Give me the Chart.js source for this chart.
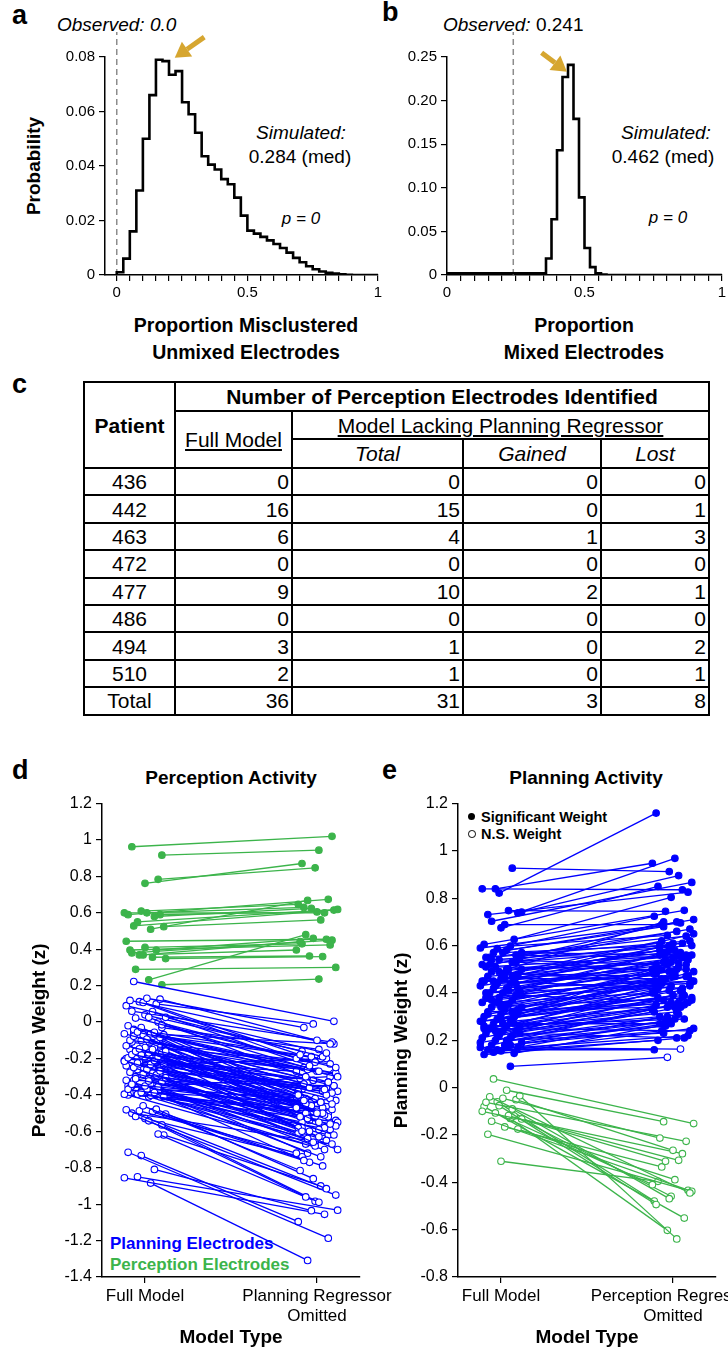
<!DOCTYPE html>
<html>
<head>
<meta charset="utf-8">
<title>Misclustering simulations and regressor omission</title>
<script src="https://cdn.jsdelivr.net/npm/chart.js@4.4.1/dist/chart.umd.min.js"></script>
<style>
  html, body { margin: 0; padding: 0; background: #fff; }
  body { position: relative; width: 728px; height: 1351px; overflow: hidden;
         font-family: "Liberation Sans", Arial, sans-serif; color: #000; }
  canvas { position: absolute; }
  .t { position: absolute; white-space: nowrap; line-height: 1; }
  .c { transform: translate(-50%, -50%); }
  .l { transform: translateY(-50%); }
  .b { font-weight: bold; }
  .i { font-style: italic; }
  .letter { font-size: 27px; font-weight: bold; }
  #tbl { position: absolute; left: 83px; top: 381px; width: 625px; border-collapse: collapse;
         table-layout: fixed; font-size: 21px; border: 2.5px solid #000; }
  #tbl td, #tbl th { border: 2px solid #000; padding: 0 2px; line-height: 1; }
  #tbl th { font-weight: bold; text-align: center; }
  #tbl .u { text-decoration: underline; text-align: center; }
  #tbl .it { font-style: italic; text-align: center; }
  #tbl .num { text-align: right; }
  #tbl .pat { text-align: center; }
</style>
</head>
<body>

<!-- panel letters -->
<div class="t letter" style="left:12px; top:2px;">a</div>
<div class="t letter" style="left:382px; top:-1px;">b</div>
<div class="t letter" style="left:12px; top:371px;">c</div>
<div class="t letter" style="left:12px; top:757px;">d</div>
<div class="t letter" style="left:382px; top:757px;">e</div>

<!-- panel a / b annotations -->
<div class="t l i" style="left:57px; top:24px; font-size:19px;">Observed: 0.0</div>
<div class="t l" style="left:443px; top:24px; font-size:19px;"><span class="i">Observed:</span> 0.241</div>
<div class="t c i" style="left:301px; top:132px; font-size:19px;">Simulated:</div>
<div class="t c" style="left:300px; top:156px; font-size:19px;">0.284 (med)</div>
<div class="t c i" style="left:301px; top:218px; font-size:17px;">p = 0</div>
<div class="t c i" style="left:666px; top:132px; font-size:19px;">Simulated:</div>
<div class="t c" style="left:663px; top:156px; font-size:19px;">0.462 (med)</div>
<div class="t c i" style="left:668px; top:217px; font-size:17px;">p = 0</div>
<div class="t c b" style="left:33px; top:166px; font-size:19px; transform: translate(-50%,-50%) rotate(-90deg);">Probability</div>
<div class="t c b" style="left:246px; top:326px; font-size:19.5px;">Proportion Misclustered</div>
<div class="t c b" style="left:246px; top:353px; font-size:19.5px;">Unmixed Electrodes</div>
<div class="t c b" style="left:584px; top:326px; font-size:19.5px;">Proportion</div>
<div class="t c b" style="left:584px; top:353px; font-size:19.5px;">Mixed Electrodes</div>

<!-- panel d / e titles and legends -->
<div class="t c b" style="left:231px; top:777px; font-size:19px;">Perception Activity</div>
<div class="t c b" style="left:586px; top:777px; font-size:19px;">Planning Activity</div>
<div class="t l b" style="left:110px; top:1243px; font-size:17px; color:#0000ff;">Planning Electrodes</div>
<div class="t l b" style="left:110px; top:1264px; font-size:17px; color:#3cb44b;">Perception Electrodes</div>
<div class="t l b" style="left:481px; top:817px; font-size:14.5px;">Significant Weight</div>
<div class="t l b" style="left:481px; top:834px; font-size:14.5px;">N.S. Weight</div>
<div style="position:absolute; left:468px; top:813px; width:7px; height:7px; border-radius:50%; background:#000;"></div>
<div style="position:absolute; left:468px; top:830px; width:5.6px; height:5.6px; border-radius:50%; border:0.8px solid #000; background:#fff;"></div>

<canvas id="histA" width="392" height="310" style="left:0; top:10px;"></canvas>
<canvas id="histB" width="360" height="310" style="left:380px; top:10px;"></canvas>

<table id="tbl">
  <colgroup><col style="width:91px"><col style="width:117px"><col style="width:171px"><col style="width:138px"><col style="width:108px"></colgroup>
  <tr style="height:29px"><th rowspan="3">Patient</th><th colspan="4">Number of Perception Electrodes Identified</th></tr>
  <tr style="height:28px"><td rowspan="2" class="u">Full Model</td><td colspan="3" class="u">Model Lacking Planning Regressor</td></tr>
  <tr style="height:29px"><td class="it">Total</td><td class="it">Gained</td><td class="it">Lost</td></tr>
</table>

<canvas id="slopeD" width="410" height="561" style="left:0; top:790px;"></canvas>
<canvas id="slopeE" width="420" height="561" style="left:370px; top:790px;"></canvas>

<script>
// ---- panel a: misclustered unmixed electrodes (bin left edges, probability) ----
const histABins = [0.000, 0.025, 0.050, 0.075, 0.100, 0.125, 0.150, 0.175, 0.200, 0.225,
                   0.250, 0.275, 0.300, 0.325, 0.350, 0.375, 0.400, 0.425, 0.450, 0.475,
                   0.500, 0.525, 0.550, 0.575, 0.600, 0.625, 0.650, 0.675, 0.700, 0.725,
                   0.750, 0.775, 0.800, 0.825, 0.850, 0.875, 0.900, 0.925, 0.950, 0.975];
const histAProb = [0, 0.001, 0.006, 0.016, 0.031, 0.050, 0.066, 0.079, 0.0785, 0.0735,
                   0.0748, 0.0634, 0.0590, 0.0522, 0.0436, 0.0405, 0.0387, 0.0352, 0.0333, 0.0284,
                   0.0218, 0.0163, 0.0152, 0.0140, 0.0127, 0.0114, 0.0099, 0.0082, 0.0063, 0.0047,
                   0.0032, 0.0021, 0.0013, 0.0008, 0.0005, 0.0003, 0.0001, 0, 0, 0];

// ---- panel b: mixed electrodes ----
const histBBins = [0, 0.36, 0.38, 0.40, 0.42, 0.44, 0.46, 0.48, 0.50, 0.52, 0.54, 0.56, 0.58, 0.60];
const histBProb = [0, 0.002, 0.019, 0.064, 0.143, 0.227, 0.241, 0.179, 0.089, 0.031, 0.009, 0.002, 0.0005, 0];

const observedA = 0.0;
const observedB = 0.241;

const histXTicks = [0, 0.05, 0.1, 0.15, 0.2, 0.25, 0.3, 0.35, 0.4, 0.45, 0.5,
                    0.55, 0.6, 0.65, 0.7, 0.75, 0.8, 0.85, 0.9, 0.95, 1];
const histXLabels = ['0', '', '', '', '', '', '', '', '', '', '0.5',
                     '', '', '', '', '', '', '', '', '', '1'];
const histAYTicks = [0, 0.02, 0.04, 0.06, 0.08];
const histAYLabels = ['0', '0.02', '0.04', '0.06', '0.08'];
const histBYTicks = [0, 0.05, 0.10, 0.15, 0.20, 0.25];
const histBYLabels = ['0', '0.05', '0.10', '0.15', '0.20', '0.25'];

// ---- panel c: table ----
const patients   = ['436', '442', '463', '472', '477', '486', '494', '510'];
const fullModel  = [0, 16, 6, 0, 9, 0, 3, 2];
const lackTotal  = [0, 15, 4, 0, 10, 0, 1, 1];
const lackGained = [0, 0, 1, 0, 2, 0, 0, 0];
const lackLost   = [0, 1, 3, 0, 1, 0, 2, 1];

// ---- panel d: perception weights (full model vs planning regressor omitted) ----
const dPlanFull = [0.223, 0.131, 0.126, 0.119, 0.108, 0.1, 0.09, 0.112, 0.058, 0.026, 0.022, 0.026, -0.015, 0.06, 0.04, 0, -0.02, -0.03,
  -0.056, -0.064, -0.055, -0.064, -0.069, -0.078, -0.093, -0.085, -0.1, -0.07, -0.11,
  -0.13, -0.147, -0.151, -0.16, -0.16, -0.169, -0.169, -0.178, -0.14, -0.19, -0.196, -0.18,
  -0.211, -0.215, -0.224, -0.233, -0.233, -0.25, -0.26, -0.269, -0.275, -0.287, -0.29, -0.24, -0.22, -0.28,
  -0.305, -0.311, -0.324, -0.329, -0.342, -0.351, -0.355, -0.369, -0.387, -0.387, -0.396, -0.396, -0.402, -0.409, -0.32, -0.37, -0.41, -0.36,
  -0.46, -0.478, -0.482, -0.487, -0.493, -0.505, -0.518, -0.542, -0.565, -0.5, -0.53,
  -0.615, -0.715, -0.733, -0.809, -0.855, -0.85, -0.884, -0.62,
  -0.04, -0.09, -0.12, -0.15, -0.17, -0.19, -0.2, -0.23, -0.25, -0.27,
  -0.3, -0.31, -0.33, -0.35, -0.37, -0.38, -0.4, -0.1, -0.14, -0.21,
  -0.26, -0.34, -0.08, -0.06, -0.18, -0.28, -0.39, -0.12, -0.22, -0.32,
  -0.05, -0.16, -0.24, -0.36, -0.41, -0.03, -0.11, -0.19, -0.27, -0.35];
const dPlanOmit = [0.004, -0.03, -0.1, -0.12, -0.18, -0.01, -0.17, -0.2, -0.24, -0.19, -0.25, -0.3, -0.27, -0.11, -0.16, -0.22, -0.33, -0.4,
  -0.19, -0.37, -0.3, -0.26, -0.44, -0.35, -0.43, -0.5, -0.23, -0.52, -0.32,
  -0.4, -0.47, -0.36, -0.5, -0.28, -0.45, -0.55, -0.39, -0.6, -0.42, -0.33, -0.58,
  -0.46, -0.51, -0.38, -0.53, -0.44, -0.62, -0.34, -0.49, -0.56, -0.41, -0.66, -0.2, -0.27, -0.6,
  -0.47, -0.57, -0.5, -0.63, -0.45, -0.58, -0.68, -0.52, -0.61, -0.44, -0.7, -0.55, -0.64, -0.74, -0.35, -0.76, -0.48, -0.3,
  -0.815, -0.86, -0.915, -0.72, -0.77, -0.79, -0.95, -0.96, -0.99, -0.67, -0.74,
  -0.984, -1.187, -1.096, -1.036, -1.056, -1.033, -1.309, -0.9,
  -0.28, -0.34, -0.27, -0.42, -0.31, -0.49, -0.36, -0.4, -0.47, -0.38,
  -0.54, -0.42, -0.59, -0.48, -0.55, -0.66, -0.5, -0.38, -0.22, -0.58,
  -0.7, -0.72, -0.2, -0.12, -0.25, -0.45, -0.59, -0.46, -0.32, -0.65,
  -0.41, -0.54, -0.64, -0.43, -0.67, -0.15, -0.29, -0.37, -0.52, -0.62];
const dPercFull = [0.917, 0.963, 0.762, 0.784, 0.59, 0.61, 0.58, 0.60, 0.55, 0.51, 0.524, 0.528, 0.60,
  0.59, 0.396, 0.369, 0.396, 0.444, 0.369, 0.356, 0.349, 0.29, 0.232, 0.205, 0.38, 0.41];
const dPercOmit = [0.944, 1.02, 0.871, 0.847, 0.674, 0.647, 0.625, 0.60, 0.619, 0.668, 0.561, 0.615, 0.63,
  0.605, 0.424, 0.442, 0.46, 0.455, 0.396, 0.363, 0.36, 0.30, 0.48, 0.236, 0.45, 0.43];

// ---- panel e: planning weights (full model vs perception regressor omitted) ----
const ePlanFull = [0.822, 0.927, 0.84, 0.84, 0.748, 0.742, 0.703, 0.689, 0.738, 0.731, 0.675, 0.626, 0.605, 0.587, 0.598, 0.59, 0.57, 0.58, 0.56, 0.55,
  0.57, 0.56, 0.55, 0.54, 0.53, 0.52, 0.51, 0.5, 0.5, 0.49, 0.48, 0.48, 0.47, 0.46, 0.46, 0.45, 0.44, 0.44, 0.43, 0.42,
  0.42, 0.41, 0.4, 0.4, 0.39, 0.38, 0.38, 0.37, 0.36, 0.36, 0.35, 0.34, 0.34, 0.33, 0.32, 0.32, 0.31, 0.3, 0.3, 0.29,
  0.28, 0.28, 0.27, 0.26, 0.26, 0.25, 0.24, 0.24, 0.23, 0.22, 0.22, 0.21, 0.2, 0.2, 0.19, 0.18, 0.18, 0.17, 0.16, 0.155,
  0.145, 0.14, 0.16, 0.09, 0.17, 0.15, 0.2, 0.23, 0.25, 0.27,
  0.53, 0.51, 0.49, 0.47, 0.45, 0.43, 0.41, 0.39, 0.37, 0.35, 0.33, 0.31, 0.29, 0.27, 0.25, 0.23, 0.21, 0.19, 0.45, 0.5,
  0.55, 0.52, 0.48, 0.44, 0.4, 0.36, 0.32, 0.28, 0.24, 0.2, 0.57, 0.54, 0.46, 0.42, 0.38, 0.34, 0.3, 0.26, 0.22, 0.18];
const ePlanOmit = [1.16, 0.913, 0.836, 0.948, 0.745, 0.896, 0.867, 0.689, 0.969, 0.826, 0.85, 0.804, 0.749, 0.724, 0.643, 0.696, 0.71, 0.68, 0.66, 0.62,
  0.6, 0.55, 0.64, 0.52, 0.58, 0.61, 0.5, 0.57, 0.53, 0.56, 0.62, 0.47, 0.54, 0.5, 0.59, 0.55, 0.48, 0.52, 0.57, 0.45,
  0.53, 0.5, 0.44, 0.56, 0.47, 0.52, 0.42, 0.49, 0.55, 0.4, 0.46, 0.51, 0.38, 0.44, 0.48, 0.36, 0.42, 0.53, 0.39, 0.45,
  0.34, 0.41, 0.49, 0.37, 0.32, 0.43, 0.3, 0.39, 0.47, 0.35, 0.28, 0.4, 0.33, 0.26, 0.31, 0.37, 0.24, 0.29, 0.22, 0.2,
  0.27, 0.21, 0.16, 0.128, 0.163, 0.25, 0.23, 0.21, 0.24, 0.27,
  0.49, 0.56, 0.44, 0.6, 0.42, 0.5, 0.54, 0.36, 0.45, 0.5, 0.34, 0.47, 0.38, 0.43, 0.35, 0.4, 0.3, 0.34, 0.65, 0.7,
  0.7, 0.67, 0.58, 0.61, 0.5, 0.48, 0.41, 0.38, 0.33, 0.28, 0.56, 0.6, 0.46, 0.58, 0.47, 0.43, 0.36, 0.29, 0.32, 0.27];
const ePlanOmitNS = [83, 84];   // omitted-model weights that are not significant
const ePercFull = [0.037, -0.011, -0.034, -0.039, -0.045, -0.051, -0.062, -0.076, -0.09, -0.1, -0.107,
  -0.118, -0.132, -0.142, -0.166, -0.175, -0.197, -0.311, -0.12, -0.08, -0.06, -0.13];
const ePercOmit = [-0.152, -0.144, -0.639, -0.445, -0.213, -0.265, -0.227, -0.494, -0.469, -0.279, -0.41,
  -0.311, -0.307, -0.438, -0.335, -0.389, -0.434, -0.396, -0.459, -0.551, -0.479, -0.603];

const modelTicks = [1, 2];
const dModelLabels = ['Full Model', ['Planning Regressor', 'Omitted']];
const eModelLabels = ['Full Model', ['Perception Regressor', 'Omitted']];
const dYTicks = [-1.4, -1.2, -1, -0.8, -0.6, -0.4, -0.2, 0, 0.2, 0.4, 0.6, 0.8, 1, 1.2];
const dYLabels = ['-1.4', '-1.2', '-1', '-0.8', '-0.6', '-0.4', '-0.2', '0', '0.2', '0.4', '0.6', '0.8', '1', '1.2'];
const eYTicks = [-0.8, -0.6, -0.4, -0.2, 0, 0.2, 0.4, 0.6, 0.8, 1, 1.2];
const eYLabels = ['-0.8', '-0.6', '-0.4', '-0.2', '0', '0.2', '0.4', '0.6', '0.8', '1', '1.2'];

const BLUE = '#0000ff';
const GREEN = '#3cb44b';
const GOLD = '#d6a630';

Chart.defaults.font.family = '"Liberation Sans", Arial, sans-serif';
Chart.defaults.color = '#000';
Chart.defaults.animation = false;
Chart.defaults.events = [];

// build the table body
const tbl = document.getElementById('tbl');
function addRow(cells) {
  const tr = document.createElement('tr');
  tr.style.height = '27.4px';
  cells.forEach((c, k) => {
    const td = document.createElement('td');
    td.className = k === 0 ? 'pat' : 'num';
    td.textContent = c;
    tr.appendChild(td);
  });
  tbl.appendChild(tr);
}
patients.forEach((p, i) => addRow([p, fullModel[i], lackTotal[i], lackGained[i], lackLost[i]]));
const sum = a => a.reduce((s, v) => s + v, 0);
addRow(['Total', sum(fullModel), sum(lackTotal), sum(lackGained), sum(lackLost)]);

// dashed line at the observed value
const observedLine = {
  id: 'observedLine',
  beforeDatasetsDraw(chart, args, opts) {
    const { ctx, chartArea, scales: { x, y } } = chart;
    const px = x.getPixelForValue(opts.value);
    ctx.save();
    ctx.strokeStyle = '#8c8c8c';
    ctx.lineWidth = 1.5;
    ctx.setLineDash([6, 4]);
    ctx.beginPath();
    ctx.moveTo(px, y.getPixelForValue(0));
    ctx.lineTo(px, chartArea.top - 25);
    ctx.stroke();
    ctx.restore();
  }
};

// gold arrow pointing at the simulated peak
const goldArrow = {
  id: 'goldArrow',
  afterDatasetsDraw(chart, args, opts) {
    const { ctx, scales: { x, y } } = chart;
    const x0 = x.getPixelForValue(opts.from[0]), y0 = y.getPixelForValue(opts.from[1]);
    const x1 = x.getPixelForValue(opts.to[0]), y1 = y.getPixelForValue(opts.to[1]);
    const ang = Math.atan2(y1 - y0, x1 - x0);
    const head = 15, hw = 9;
    const bx = x1 - head * Math.cos(ang), by = y1 - head * Math.sin(ang);
    ctx.save();
    ctx.strokeStyle = GOLD;
    ctx.fillStyle = GOLD;
    ctx.lineWidth = 5;
    ctx.beginPath();
    ctx.moveTo(x0, y0);
    ctx.lineTo(bx, by);
    ctx.stroke();
    ctx.beginPath();
    ctx.moveTo(x1, y1);
    ctx.lineTo(bx + hw * Math.sin(ang), by - hw * Math.cos(ang));
    ctx.lineTo(bx - hw * Math.sin(ang), by + hw * Math.cos(ang));
    ctx.closePath();
    ctx.fill();
    ctx.restore();
  }
};

const axisGrid = { drawOnChartArea: false, tickLength: 6, color: '#000', lineWidth: 1.2 };
const axisBorder = { color: '#000', width: 1.5 };

function histChart(id, bins, probs, o) {
  const pts = bins.map((b, i) => ({ x: b, y: probs[i] }));
  pts.push({ x: 1, y: 0 });
  return new Chart(document.getElementById(id), {
    type: 'line',
    data: { datasets: [{ data: pts, stepped: 'after', borderColor: '#000', borderWidth: 2.6,
                         pointRadius: 0, fill: false }] },
    options: {
      responsive: false,
      layout: { padding: { left: 0, top: 47, right: o.padRight, bottom: 0 } },
      plugins: {
        legend: { display: false }, tooltip: { enabled: false },
        observedLine: { value: o.observed },
        goldArrow: { from: o.arrowFrom, to: o.arrowTo }
      },
      scales: {
        x: {
          type: 'linear', min: o.xMin, max: 1,
          afterBuildTicks: s => { s.ticks = histXTicks.map(v => ({ value: v })); },
          ticks: { autoSkip: false, maxRotation: 0, padding: 3, font: { size: 15 },
                   callback: (v, i) => histXLabels[i] },
          grid: axisGrid, border: axisBorder,
          afterFit: s => { s.height = 45; }
        },
        y: {
          min: 0, max: o.yTicks[o.yTicks.length - 1],
          afterBuildTicks: s => { s.ticks = o.yTicks.map(v => ({ value: v })); },
          ticks: { padding: 4, font: { size: 15 }, callback: (v, i) => o.yLabels[i] },
          grid: axisGrid, border: axisBorder,
          afterFit: s => { s.width = o.yWidth; }
        }
      }
    },
    plugins: [observedLine, goldArrow]
  });
}

histChart('histA', histABins, histAProb, {
  xMin: -0.045, padRight: 14, yWidth: 105, observed: observedA,
  yTicks: histAYTicks, yLabels: histAYLabels,
  arrowFrom: [0.335, 0.0873], arrowTo: [0.222, 0.0797]
});
histChart('histB', histBBins, histBProb, {
  xMin: 0, padRight: 18, yWidth: 67, observed: observedB,
  yTicks: histBYTicks, yLabels: histBYLabels,
  arrowFrom: [0.344, 0.255], arrowTo: [0.436, 0.233]
});

// horizontal spread of the points around each model position
function jitter(i, seed) {
  return ((i * 7 + seed * 5) % 23) / 22 * 0.24 - 0.12;
}

function slopeSets(full, omit, color, filled, seed, order, nsOmit) {
  return full.map((v, i) => {
    const openRight = nsOmit && nsOmit.includes(i);
    return {
      data: [{ x: 1 + jitter(i, seed), y: v }, { x: 2 + jitter(i, seed + 3), y: omit[i] }],
      showLine: true, borderColor: color, borderWidth: 1.3,
      pointRadius: 3.3, pointBorderWidth: 1.1, pointBorderColor: color,
      pointBackgroundColor: [filled ? color : '#fff', (filled && !openRight) ? color : '#fff'],
      order: order
    };
  });
}

function slopeChart(id, datasets, o) {
  return new Chart(document.getElementById(id), {
    type: 'scatter',
    data: { datasets: datasets },
    options: {
      responsive: false,
      layout: { padding: { left: 0, top: 13, right: o.padRight, bottom: 0 } },
      plugins: { legend: { display: false }, tooltip: { enabled: false } },
      scales: {
        x: {
          type: 'linear', min: 0.75, max: 2.25,
          afterBuildTicks: s => { s.ticks = modelTicks.map(v => ({ value: v })); },
          ticks: { autoSkip: false, maxRotation: 0, padding: 3, font: { size: 17 },
                   callback: (v, i) => o.xLabels[i] },
          grid: axisGrid, border: axisBorder,
          title: { display: true, text: 'Model Type', font: { size: 19, weight: 'bold' },
                   padding: { top: 0, bottom: 2 } },
          afterFit: s => { s.height = 74; }
        },
        y: {
          min: o.yTicks[0], max: o.yTicks[o.yTicks.length - 1],
          afterBuildTicks: s => { s.ticks = o.yTicks.map(v => ({ value: v })); },
          ticks: { padding: 4, font: { size: 16 }, callback: (v, i) => o.yLabels[i] },
          grid: axisGrid, border: axisBorder,
          title: { display: true, text: o.yTitle, font: { size: 19, weight: 'bold' },
                   padding: { top: o.yTitlePad, bottom: 0 } },
          afterFit: s => { s.width = o.yWidth; }
        }
      }
    }
  });
}

slopeChart('slopeD',
  slopeSets(dPlanFull, dPlanOmit, BLUE, false, 1, 0)
    .concat(slopeSets(dPercFull, dPercOmit, GREEN, true, 4, 1)),
  { padRight: 50, yWidth: 102, yTitlePad: 28, yTitle: 'Perception Weight (z)',
    xLabels: dModelLabels, yTicks: dYTicks, yLabels: dYLabels });

slopeChart('slopeE',
  slopeSets(ePlanFull, ePlanOmit, BLUE, true, 2, 0, ePlanOmitNS)
    .concat(slopeSets(ePercFull, ePercOmit, GREEN, false, 6, 1)),
  { padRight: 74, yWidth: 88, yTitlePad: 20, yTitle: 'Planning Weight (z)',
    xLabels: eModelLabels, yTicks: eYTicks, yLabels: eYLabels });
</script>
</body>
</html>
